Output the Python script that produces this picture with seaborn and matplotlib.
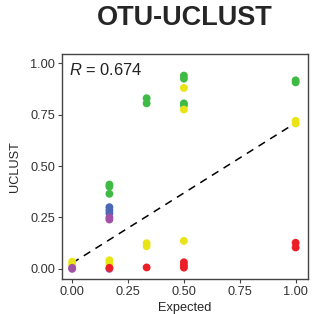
import numpy as np
import pandas as pd
import matplotlib
matplotlib.use("Agg")
import matplotlib.pyplot as plt
import seaborn as sns

# Data
green_x = [0.1667, 0.1667, 0.1667, 0.3333, 0.3333, 0.5, 0.5, 0.5, 0.5, 1.0, 1.0]
green_y = [0.41, 0.40, 0.365, 0.83, 0.805, 0.94, 0.925, 0.805, 0.795, 0.917, 0.907]
yellow_x = [0.0, 0.0, 0.1667, 0.1667, 0.3333, 0.3333, 0.5, 0.5, 0.5, 1.0, 1.0]
yellow_y = [0.035, 0.02, 0.042, 0.027, 0.125, 0.11, 0.88, 0.775, 0.136, 0.72, 0.707]
blue_x = [0.1667, 0.1667, 0.1667]
blue_y = [0.30, 0.285, 0.27]
purple_x = [0.0, 0.0, 0.1667, 0.1667, 0.1667]
purple_y = [0.005, 0.0, 0.25, 0.24, 0.0]
red_x = [0.1667, 0.3333, 0.5, 0.5, 0.5, 1.0, 1.0]
red_y = [0.005, 0.007, 0.032, 0.018, 0.006, 0.127, 0.104]

series_names = ["green", "yellow", "blue", "purple", "red"]
series_colors = ["#3fba45", "#e8e416", "#4a68b3", "#a052a6", "#ec1f27"]

fit_x = [0.0, 1.0]
fit_y = [0.028, 0.71]
r_text = "0.674"

xticks = [0.0, 0.25, 0.5, 0.75, 1.0]
yticks = [0.0, 0.25, 0.5, 0.75, 1.0]

frames = []
for name, xs, ys in zip(series_names,
                        [green_x, yellow_x, blue_x, purple_x, red_x],
                        [green_y, yellow_y, blue_y, purple_y, red_y]):
    frames.append(pd.DataFrame({"Expected": xs, "UCLUST": ys, "group": name}))
df = pd.concat(frames, ignore_index=True)

sns.set_style("ticks")
plt.rcParams["font.family"] = ["Liberation Sans", "DejaVu Sans"]
plt.rcParams["mathtext.fontset"] = "custom"
plt.rcParams["mathtext.it"] = "Liberation Sans:italic"
plt.rcParams["mathtext.rm"] = "Liberation Sans"

fig = plt.figure(figsize=(3.12, 3.14), dpi=100)
ax = fig.add_axes([0.199, 0.111, 0.788, 0.717])

sns.lineplot(x=fit_x, y=fit_y, ax=ax, color="black", linestyle=(0, (5, 4)),
             linewidth=1.1, zorder=1)
sns.scatterplot(data=df, x="Expected", y="UCLUST", hue="group",
                hue_order=series_names, palette=series_colors,
                s=32, linewidth=0, legend=False, ax=ax, zorder=2)

ax.set_xlim(-0.045, 1.055)
ax.set_ylim(-0.05, 1.045)
ax.set_xticks(xticks)
ax.set_yticks(yticks)
ax.set_xticklabels([f"{t:.2f}" for t in xticks], fontsize=9.2, color="#333333")
ax.set_yticklabels([f"{t:.2f}" for t in yticks], fontsize=9.2, color="#333333")
ax.set_xlabel("Expected", fontsize=9.2, labelpad=3)
ax.set_ylabel("UCLUST", fontsize=9.2, labelpad=7)
for sp in ax.spines.values():
    sp.set_visible(True)
    sp.set_color("#444444")
    sp.set_linewidth(1.0)
ax.tick_params(length=3, width=0.8, color="#444444", pad=2)

ax.text(0.03, 0.965, r"$R$ = " + r_text, transform=ax.transAxes,
        fontsize=11.9, va="top", ha="left", color="#222222")

fig.text(0.593, 0.943, "OTU-UCLUST", ha="center", va="center",
         fontsize=19.5, fontweight="bold")

fig.savefig("out.png", dpi=100)
